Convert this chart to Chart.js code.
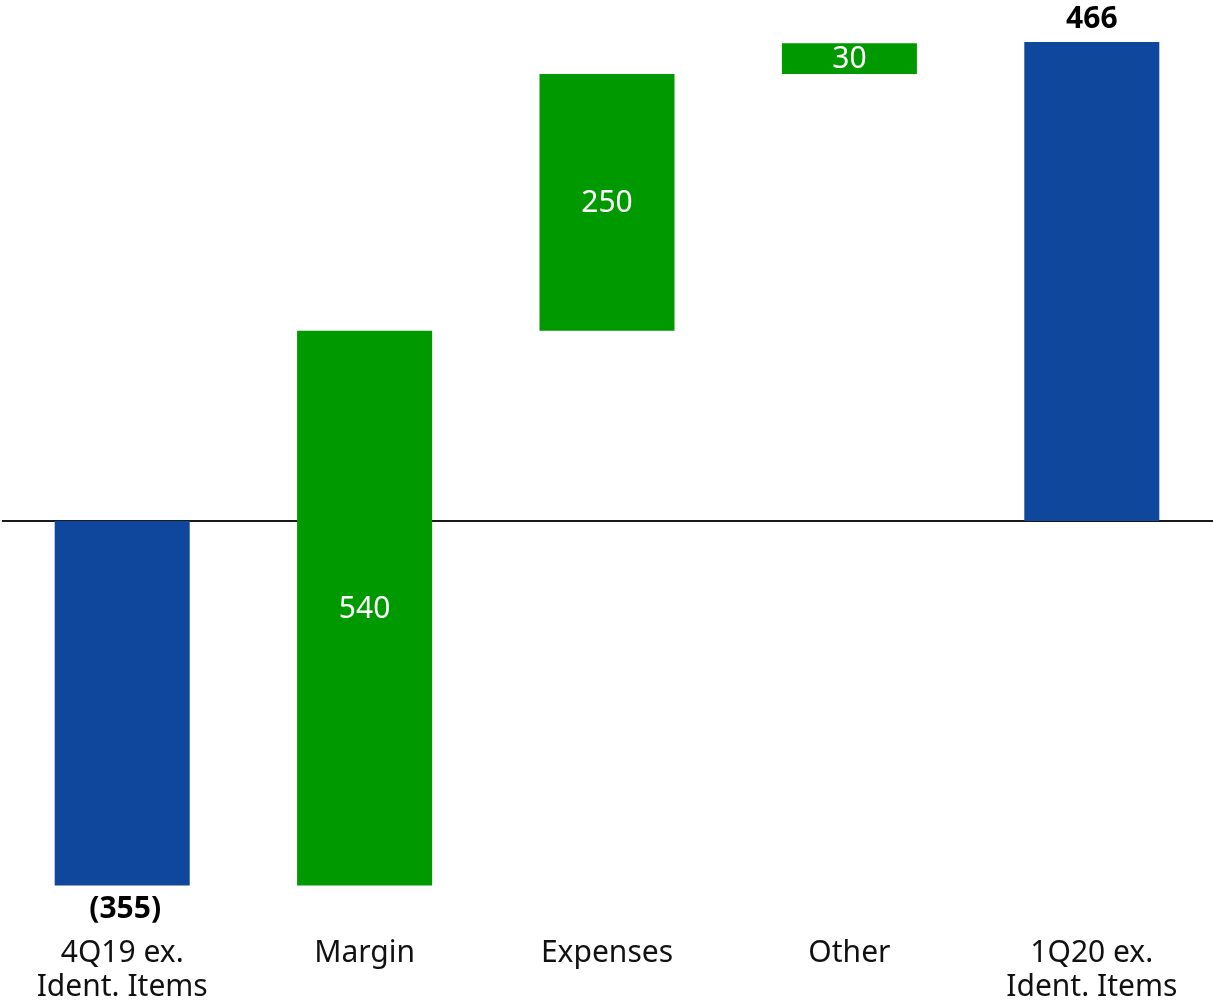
<!DOCTYPE html>
<html>
<head>
<meta charset="utf-8">
<script src="https://cdn.jsdelivr.net/npm/chart.js@4"></script>
<style>
  html, body { margin: 0; padding: 0; background: #fff; }
  #wrap { width: 1213px; height: 1006px; position: relative; }
</style>
</head>
<body>
<div id="wrap"><canvas id="chart"></canvas></div>
<script>
// categories (two-line labels)
const categories = [
    ['4Q19 ex.', 'Ident. Items'],
    ['Margin'],
    ['Expenses'],
    ['Other'],
    ['1Q20 ex.', 'Ident. Items']
];
const startValue = -355;
const stepValues = [540, 250, 30];
const endValue = 466;
const valueLabels = ['(355)', '540', '250', '30', '466'];
const barColors = ['#0e479c', '#009900', '#009900', '#009900', '#0e479c'];

// floating bars for the waterfall
const bars = [[0, startValue]];
let running = startValue;
stepValues.forEach(v => {
    bars.push([running, running + v]);
    running += v;
});
bars.push([0, endValue]);

const FONT = "'Noto Sans', sans-serif";

// zero line + labels
const waterfallPlugin = {
    id: 'waterfall',
    beforeDatasetsDraw(chart) {
        const ctx = chart.ctx;
        const y0 = chart.scales.y.getPixelForValue(0);
        ctx.save();
        ctx.strokeStyle = '#1a1a1a';
        ctx.lineWidth = 2;
        ctx.beginPath();
        ctx.moveTo(2, y0);
        ctx.lineTo(chart.width, y0);
        ctx.stroke();
        ctx.restore();
    },
    afterDatasetsDraw(chart) {
        const ctx = chart.ctx;
        const meta = chart.getDatasetMeta(0);
        const yScale = chart.scales.y;
        ctx.save();
        ctx.textAlign = 'center';
        ctx.textBaseline = 'middle';
        meta.data.forEach((bar, i) => {
            const lo = Math.min(bars[i][0], bars[i][1]);
            const hi = Math.max(bars[i][0], bars[i][1]);
            const x = bar.x;
            if (i === 0) {
                ctx.font = 'bold 30px ' + FONT;
                ctx.fillStyle = '#000';
                ctx.fillText(valueLabels[i], x + 3, yScale.getPixelForValue(lo) + 24);
            } else if (i === bars.length - 1) {
                ctx.font = 'bold 30px ' + FONT;
                ctx.fillStyle = '#000';
                ctx.fillText(valueLabels[i], x, yScale.getPixelForValue(hi) - 23);
            } else {
                ctx.font = '30px ' + FONT;
                ctx.fillStyle = '#fff';
                const mid = (yScale.getPixelForValue(lo) + yScale.getPixelForValue(hi)) / 2;
                ctx.fillText(valueLabels[i], x, mid + 1);
            }
            // category labels
            ctx.font = '30px ' + FONT;
            ctx.fillStyle = '#111';
            categories[i].forEach((line, j) => {
                ctx.fillText(line, x, 953 + j * 34);
            });
        });
        ctx.restore();
    }
};

const ctx = document.getElementById('chart').getContext('2d');
new Chart(ctx, {
    type: 'bar',
    data: {
        labels: categories.map(c => c.join(' ')),
        datasets: [{
            data: bars,
            backgroundColor: barColors,
            borderWidth: 0,
            barPercentage: 1,
            categoryPercentage: 0.557,
            borderSkipped: false
        }]
    },
    options: {
        responsive: true,
        maintainAspectRatio: false,
        animation: false,
        layout: {
            padding: { top: 0, bottom: 106, left: 1, right: 0 }
        },
        plugins: {
            legend: { display: false },
            tooltip: { enabled: false }
        },
        scales: {
            x: { display: false },
            y: { display: false, min: -369, max: 507 }
        }
    },
    plugins: [waterfallPlugin]
});
</script>
</body>
</html>
